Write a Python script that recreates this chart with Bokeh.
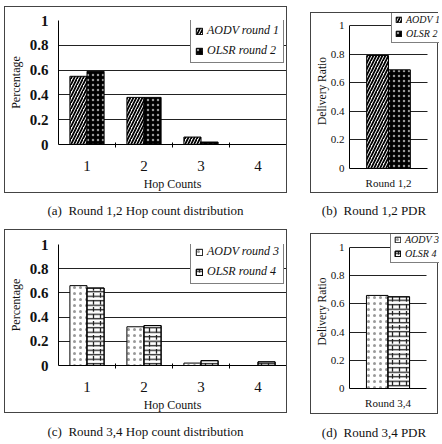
from bokeh.plotting import figure
from bokeh.models import (Range1d, FixedTicker, NumeralTickFormatter, Legend,
                          LegendItem, Div, ColumnDataSource)
from bokeh.layouts import row, column
from bokeh.transform import dodge
from bokeh.embed import file_html
from bokeh.resources import INLINE

# Hop count distribution (fraction of routes per hop count)
hops = [1, 2, 3, 4]
hop_labels = ["1", "2", "3", "4"]
aodv_round1 = [0.55, 0.38, 0.06, 0.0]
olsr_round2 = [0.59, 0.38, 0.02, 0.0]
aodv_round3 = [0.66, 0.32, 0.02, 0.0]
olsr_round4 = [0.64, 0.33, 0.04, 0.03]

# Packet delivery ratio per round pair
pdr_group_12 = ["Round 1,2"]
pdr_aodv1 = [0.79]
pdr_olsr2 = [0.69]
pdr_group_34 = ["Round 3,4"]
pdr_aodv3 = [0.66]
pdr_olsr4 = [0.65]

ratio_ticks = [0, 0.2, 0.4, 0.6, 0.8, 1]

SERIF = "Liberation Serif, Times New Roman, DejaVu Serif, serif"
INK = "#111111"
BOX = {"border": "1px solid #444444", "box-sizing": "border-box"}

# bar looks
DIAG = dict(fill_color="white", hatch_pattern="right_diagonal_line",
            hatch_color="black", hatch_scale=6, hatch_weight=1.8)
BLACKDOT = dict(fill_color="black", hatch_pattern="dot",
                hatch_color="#999999", hatch_scale=5, hatch_weight=0.6)
LIGHTDOT = dict(fill_color="white", hatch_pattern="dot",
                hatch_color="#999999", hatch_scale=6, hatch_weight=0.8)
BRICK_H = dict(fill_color="white", hatch_pattern="horizontal_line",
               hatch_color="#222222", hatch_scale=4.5, hatch_weight=1.3)
BRICK_V = dict(fill_alpha=0, hatch_pattern="vertical_dash",
               hatch_color="#222222", hatch_scale=7, hatch_weight=1.3)


def style_y(p, size, bold, standoff, label_standoff, label_size="12px"):
    p.yaxis.ticker = FixedTicker(ticks=ratio_ticks)
    p.yaxis.formatter = NumeralTickFormatter(format="0.[0]")
    p.yaxis.bounds = (0, 1)
    p.yaxis.major_tick_line_color = None
    p.yaxis.major_tick_out = 0
    p.yaxis.major_tick_in = 0
    p.yaxis.minor_tick_line_color = None
    p.yaxis.major_label_text_font = SERIF
    p.yaxis.major_label_text_font_size = size
    p.yaxis.major_label_text_font_style = "bold" if bold else "normal"
    p.yaxis.major_label_text_color = INK
    p.yaxis.major_label_standoff = standoff
    p.yaxis.axis_line_color = "black"
    p.yaxis.axis_label_text_font = SERIF
    p.yaxis.axis_label_text_font_style = "normal"
    p.yaxis.axis_label_text_font_size = label_size
    p.yaxis.axis_label_text_color = INK
    p.yaxis.axis_label_standoff = label_standoff
    p.ygrid.ticker = FixedTicker(ticks=ratio_ticks)
    p.ygrid.grid_line_color = "#222222"
    p.ygrid.grid_line_width = 1
    p.xgrid.visible = False
    p.outline_line_color = None


def make_legend(items, loc, font_size, glyph, lab_h, pad, spacing):
    return Legend(items=items, location=loc, orientation="vertical",
                  border_line_color="black", border_line_width=1,
                  background_fill_color="white", background_fill_alpha=1,
                  label_text_font=SERIF, label_text_font_style="italic",
                  label_text_font_size=font_size, label_text_color=INK,
                  glyph_width=glyph, glyph_height=glyph, label_standoff=4,
                  label_height=lab_h, padding=pad, spacing=spacing, margin=0)


def hop_panel(height, top_b, bottom_b, a_vals, o_vals, a_style, o_styles,
              a_name, o_name, margin):
    src = ColumnDataSource(dict(hop=hops, a=a_vals, o=o_vals))
    p = figure(width=283, height=height, x_range=Range1d(0.5, 4.5),
               y_range=Range1d(0, 1), output_backend="svg",
               toolbar_location=None, min_border_left=53, min_border_right=2,
               min_border_top=top_b, min_border_bottom=bottom_b,
               styles=BOX, margin=margin, x_axis_label="Hop Counts",
               y_axis_label="Percentage")
    ra = p.vbar(x=dodge("hop", -0.15, range=p.x_range), top="a", width=0.3,
                source=src, line_color="black", line_width=1, **a_style)
    ro = [p.vbar(x=dodge("hop", 0.15, range=p.x_range), top="o", width=0.3,
                 source=src, line_color="black", line_width=1, **st)
          for st in o_styles]
    style_y(p, "15px", True, 10, 4)
    p.xaxis.ticker = FixedTicker(ticks=hops, minor_ticks=[1.5, 2.5, 3.5])
    p.xaxis.major_label_overrides = dict(zip(hops, hop_labels))
    p.xaxis.major_tick_line_color = None
    p.xaxis.major_tick_out = 0
    p.xaxis.major_tick_in = 0
    p.xaxis.minor_tick_line_color = "black"
    p.xaxis.minor_tick_in = 2
    p.xaxis.minor_tick_out = 3
    p.xaxis.axis_line_color = "black"
    p.xaxis.major_label_text_font = SERIF
    p.xaxis.major_label_text_font_size = "15px"
    p.xaxis.major_label_text_color = INK
    p.xaxis.major_label_standoff = 13
    p.xaxis.axis_label_text_font = SERIF
    p.xaxis.axis_label_text_font_style = "normal"
    p.xaxis.axis_label_text_font_size = "12px"
    p.xaxis.axis_label_text_color = INK
    p.xaxis.axis_label_standoff = 3
    leg = make_legend([LegendItem(label=a_name, renderers=[ra]),
                       LegendItem(label=o_name, renderers=ro)],
                      (132, 81), "12px", 8, 13, 4, 5)
    p.add_layout(leg)
    return p


def pdr_panel(height, bottom_b, y_top, x_right, group, a_vals, o_vals,
              a_style, o_styles, a_name, o_name, loc, margin):
    # the plot area reaches the top-right corner of the box so that the key,
    # which sits across that corner, is not clipped; axis and grid stop at
    # the [0, 1] data box
    src = ColumnDataSource(dict(g=[0], a=a_vals, o=o_vals))
    p = figure(width=128, height=height, x_range=Range1d(-0.5, x_right),
               y_range=Range1d(0, y_top), output_backend="svg",
               toolbar_location=None, min_border_left=38,
               min_border_right=0, min_border_top=0,
               min_border_bottom=bottom_b, styles=BOX, margin=margin,
               y_axis_label="Delivery Ratio")
    ra = p.vbar(x=dodge("g", -0.14, range=p.x_range), top="a", width=0.28,
                source=src, line_color="black", line_width=1, **a_style)
    ro = [p.vbar(x=dodge("g", 0.14, range=p.x_range), top="o", width=0.28,
                 source=src, line_color="black", line_width=1, **st)
          for st in o_styles]
    style_y(p, "11px", False, 5, 0, "11.5px")
    if "cross_bounds" in p.ygrid[0].properties():
        p.ygrid.cross_bounds = (-0.5, 0.5)
    p.xaxis.bounds = (-0.5, 0.5)
    p.xaxis.ticker = FixedTicker(ticks=[0])
    p.xaxis.major_label_overrides = {0: group[0]}
    p.xaxis.major_tick_line_color = None
    p.xaxis.major_tick_out = 0
    p.xaxis.major_tick_in = 0
    p.xaxis.minor_tick_line_color = None
    p.xaxis.axis_line_color = "black"
    p.xaxis.major_label_text_font = SERIF
    p.xaxis.major_label_text_font_size = "11px"
    p.xaxis.major_label_text_color = INK
    p.xaxis.major_label_standoff = 8
    leg = make_legend([LegendItem(label=a_name, renderers=[ra]),
                       LegendItem(label=o_name, renderers=ro)],
                      loc, "10px", 7, 11, 3, 3)
    p.add_layout(leg)
    return p


def caption(text, width, height, pad, margin):
    html = ('<div style="font-family:%s;font-size:13px;color:#111;'
            'text-align:center;width:%dpx;padding-top:%dpx;white-space:nowrap">'
            '%s</div>' % ("'Liberation Serif','Times New Roman',serif",
                          width, pad, text))
    return Div(text=html, width=width, height=height, margin=margin)


fa = hop_panel(187, 13, 50, aodv_round1, olsr_round2, DIAG, [BLACKDOT],
               "AODV round 1", "OLSR round 2", (6, 0, 0, 4))
fb = pdr_panel(181, 26, 1.084, 0.654, pdr_group_12, pdr_aodv1, pdr_olsr2,
               DIAG, [BLACKDOT], "AODV 1", "OLSR 2", (42, 125),
               (12, 0, 0, 23))
fc = hop_panel(184, 14, 47, aodv_round3, olsr_round4, LIGHTDOT,
               [BRICK_H, BRICK_V], "AODV round 3", "OLSR round 4",
               (0, 0, 0, 4))
fd = pdr_panel(181, 27, 1.092, 0.669, pdr_group_34, pdr_aodv3, pdr_olsr4,
               LIGHTDOT, [BRICK_H, BRICK_V], "AODV 3", "OLSR 4", (41, 125),
               (4, 0, 0, 23))

cap_a = caption("(a)&nbsp; Round 1,2 Hop count distribution", 283, 36, 9,
                (0, 0, 0, 4))
cap_b = caption("(b)&nbsp; Round 1,2 PDR", 128, 36, 9, (0, 0, 0, 23))
cap_c = caption("(c)&nbsp; Round 3,4 Hop count distribution", 283, 30, 10,
                (0, 0, 0, 4))
cap_d = caption("(d)&nbsp; Round 3,4 PDR", 128, 30, 10, (0, 0, 0, 23))

# hop-count panels on the left, delivery-ratio panels on the right
left = column(fa, cap_a, fc, cap_c)
right = column(fb, cap_b, fd, cap_d)
page = row(left, right)

open("out.html", "w").write(file_html(page, INLINE))
